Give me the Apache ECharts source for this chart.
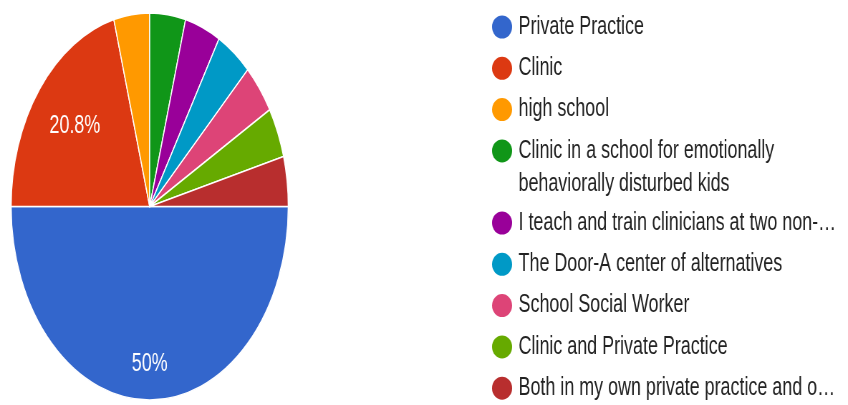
<!DOCTYPE html>
<html>
<head>
<meta charset="utf-8">
<script src="https://cdn.jsdelivr.net/npm/echarts@6/dist/echarts.min.js"></script>
<style>
  html, body { margin: 0; padding: 0; background: #ffffff; overflow: hidden; }
  #wrap { width: 848px; height: 405px; overflow: hidden; }
  /* the chart is laid out wide and squeezed horizontally, so the pie reads as a tall oval */
  #chart { width: 1184px; height: 405px; transform: scaleX(0.7162); transform-origin: 0 0; }
</style>
</head>
<body>
<div id="wrap"><div id="chart"></div></div>
<script>
// Where respondents work (24 responses)
const categories = [
  'Private Practice',
  'Clinic',
  'high school',
  'Clinic in a school for emotionally behaviorally disturbed kids',
  'I teach and train clinicians at two non-…',
  'The Door-A center of alternatives',
  'School Social Worker',
  'Clinic and Private Practice',
  'Both in my own private practice and o…'
];
const responses = [12, 5, 1, 1, 1, 1, 1, 1, 1];
const sliceColors = [
  '#3366cc', '#dc3912', '#ff9900', '#109618', '#990099',
  '#0099c6', '#dd4477', '#66aa00', '#b82e2e'
];

const pieCenter = [209, 206.5];
const pieRadius = 193.5;
// how far out (as a share of the radius) the percentage text sits
const labelRadiusShare = { 'Private Practice': 0.79, 'Clinic': 0.66 };

// the long legend entry is shown on two lines
const wrappedName = categories[3];
const breakAt = wrappedName.indexOf('behaviorally');
const wrappedFirst = wrappedName.slice(0, breakAt).trim();
const wrappedSecond = wrappedName.slice(breakAt);

const legendFont = 'Liberation Sans, Arial, sans-serif';
const legendFontSize = 25;
const legendLeft = 687;
const legendItemW = 28;
const legendTextPad = 4;

const legendCommon = {
  orient: 'vertical',
  left: legendLeft,
  height: 240,
  padding: 0,
  itemGap: 7.3,
  itemWidth: legendItemW,
  itemHeight: 23,
  icon: 'path://M14,0A14,11.5,0,1,1,14,23A14,11.5,0,1,1,14,0Z',
  itemStyle: { borderWidth: 0 },
  selectedMode: false,
  formatter: (name) => name === wrappedName ? wrappedFirst : name,
  textStyle: {
    fontFamily: legendFont,
    fontSize: legendFontSize,
    lineHeight: 34,
    color: '#222222',
    padding: [0, 0, 0, legendTextPad]
  }
};

const chart = echarts.init(document.getElementById('chart'));
chart.setOption({
  animation: false,
  color: sliceColors,
  legend: [
    Object.assign({}, legendCommon, { top: 10, data: categories.slice(0, 4) }),
    Object.assign({}, legendCommon, { top: 206, data: categories.slice(4) })
  ],
  graphic: [{
    type: 'text',
    x: legendLeft + legendItemW + 5 + legendTextPad,
    y: 184,
    style: {
      text: wrappedSecond,
      fontFamily: legendFont,
      fontSize: legendFontSize,
      fill: '#222222',
      verticalAlign: 'middle'
    }
  }],
  series: [{
    type: 'pie',
    center: pieCenter,
    radius: pieRadius,
    startAngle: 0,
    clockwise: true,
    percentPrecision: 1,
    silent: true,
    itemStyle: { borderColor: '#ffffff', borderWidth: 1.5 },
    label: {
      show: true,
      position: 'inside',
      color: '#ffffff',
      fontFamily: legendFont,
      fontSize: 25,
      formatter: (p) => p.percent >= 5 ? p.percent + '%' : ''
    },
    labelLine: { show: false },
    labelLayout: (params) => {
      const share = labelRadiusShare[categories[params.dataIndex]];
      if (!share) return {};
      const r = params.labelRect;
      const lx = r.x + r.width / 2;
      const ly = r.y + r.height / 2;
      const k = share / 0.5 - 1;
      return { dx: (lx - pieCenter[0]) * k, dy: (ly - pieCenter[1]) * k };
    },
    data: categories.map((n, i) => ({ name: n, value: responses[i] }))
  }]
});
</script>
</body>
</html>
